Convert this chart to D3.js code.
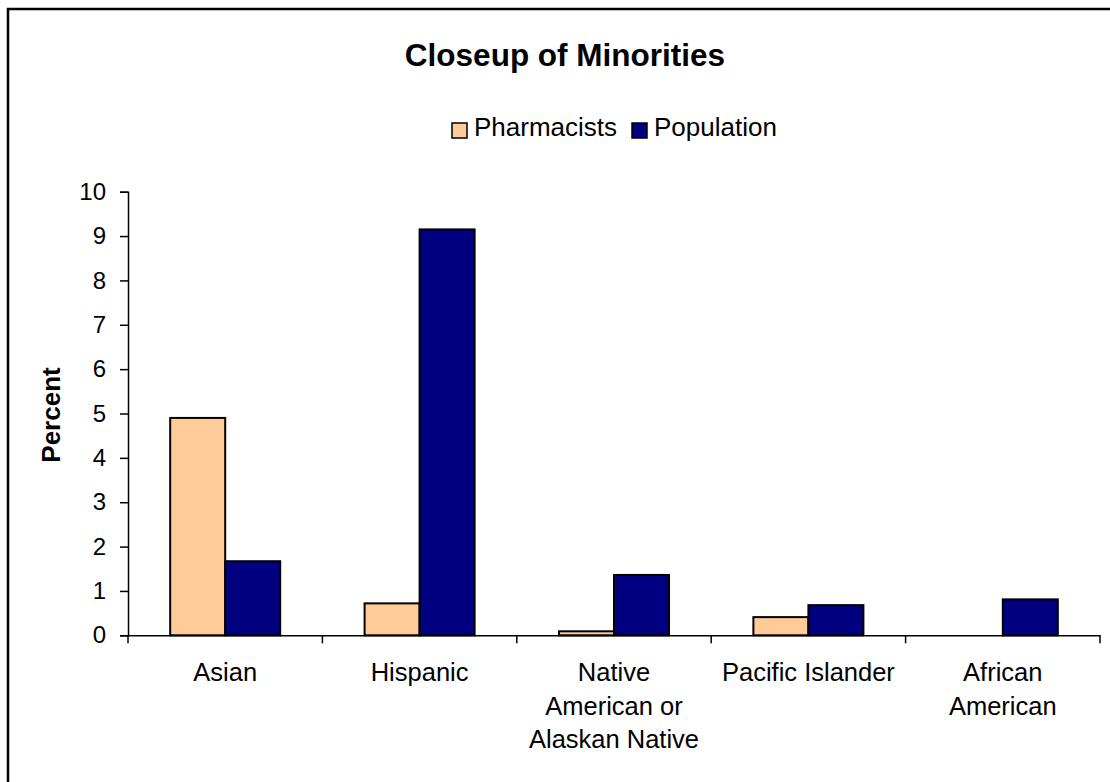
<!DOCTYPE html>
<html>
<head>
<meta charset="utf-8">
<script src="https://cdn.jsdelivr.net/npm/d3@7"></script>
<style>
  html, body { margin: 0; padding: 0; background: #fff; }
  svg { display: block; font-family: 'Liberation Sans', Arial, sans-serif; }
</style>
</head>
<body>
<div id="chart"></div>
<script>
const categories = ['Asian', 'Hispanic', 'Native American or Alaskan Native', 'Pacific Islander', 'African American']
const categoryLines = [['Asian'], ['Hispanic'], ['Native', 'American or', 'Alaskan Native'], ['Pacific Islander'], ['African', 'American']]
const seriesNames = ['Pharmacists', 'Population']
const pharmacists = [4.9, 0.72, 0.09, 0.41, 0]
const population = [1.67, 9.15, 1.36, 0.68, 0.81]
const yTicks = [0, 1, 2, 3, 4, 5, 6, 7, 8, 9, 10]
const colors = ['#ffcc99', '#000080']

const width = 1110
const height = 782
const margin = { top: 191.7, right: 10, bottom: 146.7, left: 128 }
const plotRight = 1100

const data = categories.map((c, i) => ({ category: c, values: [pharmacists[i], population[i]] }))

const svg = d3.select('#chart').append('svg')
  .attr('width', width)
  .attr('height', height)

// outer chart frame
svg.append('rect')
  .attr('x', 8).attr('y', 9)
  .attr('width', width + 20).attr('height', height + 20)
  .attr('fill', '#fff')
  .attr('stroke', '#000')
  .attr('stroke-width', 2.5)

const x0 = d3.scaleBand()
  .domain(categories)
  .range([margin.left, plotRight])
  .paddingInner(0)
  .paddingOuter(0)

const x1 = d3.scaleBand()
  .domain(seriesNames)
  .range([0, x0.bandwidth()])
  .paddingInner(0)
  .paddingOuter(0.767)

const y = d3.scaleLinear()
  .domain([0, 10])
  .range([height - margin.bottom, margin.top])

// bars
const groups = svg.append('g').selectAll('g')
  .data(data)
  .join('g')
  .attr('transform', d => 'translate(' + x0(d.category) + ',0)')

groups.selectAll('rect')
  .data(d => d.values.map((v, j) => ({ key: seriesNames[j], value: v, j })))
  .join('rect')
  .filter(d => d.value > 0)
  .attr('x', d => x1(d.key))
  .attr('y', d => y(d.value))
  .attr('width', x1.bandwidth())
  .attr('height', d => y(0) - y(d.value))
  .attr('fill', d => colors[d.j])
  .attr('stroke', '#000')
  .attr('stroke-width', 2)

// y axis
const yAxis = svg.append('g')
  .attr('transform', 'translate(' + margin.left + ',0)')
  .call(d3.axisLeft(y).tickValues(yTicks).tickSize(8).tickPadding(14).tickFormat(d3.format('d')))
yAxis.select('.domain').attr('stroke', '#000').attr('stroke-width', 1.5)
yAxis.selectAll('.tick line').attr('stroke', '#000').attr('stroke-width', 1.5)
yAxis.selectAll('.tick text')
  .attr('font-size', 24)
  .attr('font-family', "'Liberation Sans', Arial, sans-serif")
  .attr('fill', '#000')

// x axis
const xAxis = svg.append('g')
  .attr('transform', 'translate(0,' + y(0) + ')')
  .call(d3.axisBottom(x0).tickSize(0).tickFormat(''))
xAxis.select('.domain').attr('stroke', '#000').attr('stroke-width', 1.5)
xAxis.selectAll('.tick').remove()

// category separator ticks
const bounds = categories.map(c => x0(c)).concat([plotRight])
svg.append('g').selectAll('line')
  .data(bounds)
  .join('line')
  .attr('x1', d => d).attr('x2', d => d)
  .attr('y1', y(0)).attr('y2', y(0) + 8)
  .attr('stroke', '#000')
  .attr('stroke-width', 1.5)

// category labels
const labels = svg.append('g').selectAll('text')
  .data(categories)
  .join('text')
  .attr('x', d => x0(d) + x0.bandwidth() / 2)
  .attr('y', 681)
  .attr('text-anchor', 'middle')
  .attr('font-size', 25.5)
  .attr('fill', '#000')

labels.selectAll('tspan')
  .data((d, i) => categoryLines[i])
  .join('tspan')
  .attr('x', function () { return d3.select(this.parentNode).attr('x') })
  .attr('dy', (d, i) => i === 0 ? 0 : 33.5)
  .text(d => d)

// title
svg.append('text')
  .attr('x', 565)
  .attr('y', 66)
  .attr('text-anchor', 'middle')
  .attr('font-size', 31.5)
  .attr('font-weight', 'bold')
  .attr('fill', '#000')
  .text('Closeup of Minorities')

// y label
svg.append('text')
  .attr('transform', 'translate(60,415) rotate(-90)')
  .attr('text-anchor', 'middle')
  .attr('font-size', 26)
  .attr('font-weight', 'bold')
  .attr('fill', '#000')
  .text('Percent')

// legend
const legendItems = [{ name: seriesNames[0], x: 452 }, { name: seriesNames[1], x: 632 }]
const legend = svg.append('g').selectAll('g')
  .data(legendItems)
  .join('g')
  .attr('transform', d => 'translate(' + d.x + ',0)')
legend.append('rect')
  .attr('x', 0).attr('y', 123)
  .attr('width', 15).attr('height', 15)
  .attr('fill', (d, i) => colors[i])
  .attr('stroke', '#000')
  .attr('stroke-width', 1.5)
legend.append('text')
  .attr('x', 22)
  .attr('y', 136)
  .attr('font-size', 26)
  .attr('fill', '#000')
  .text(d => d.name)
</script>
</body>
</html>
